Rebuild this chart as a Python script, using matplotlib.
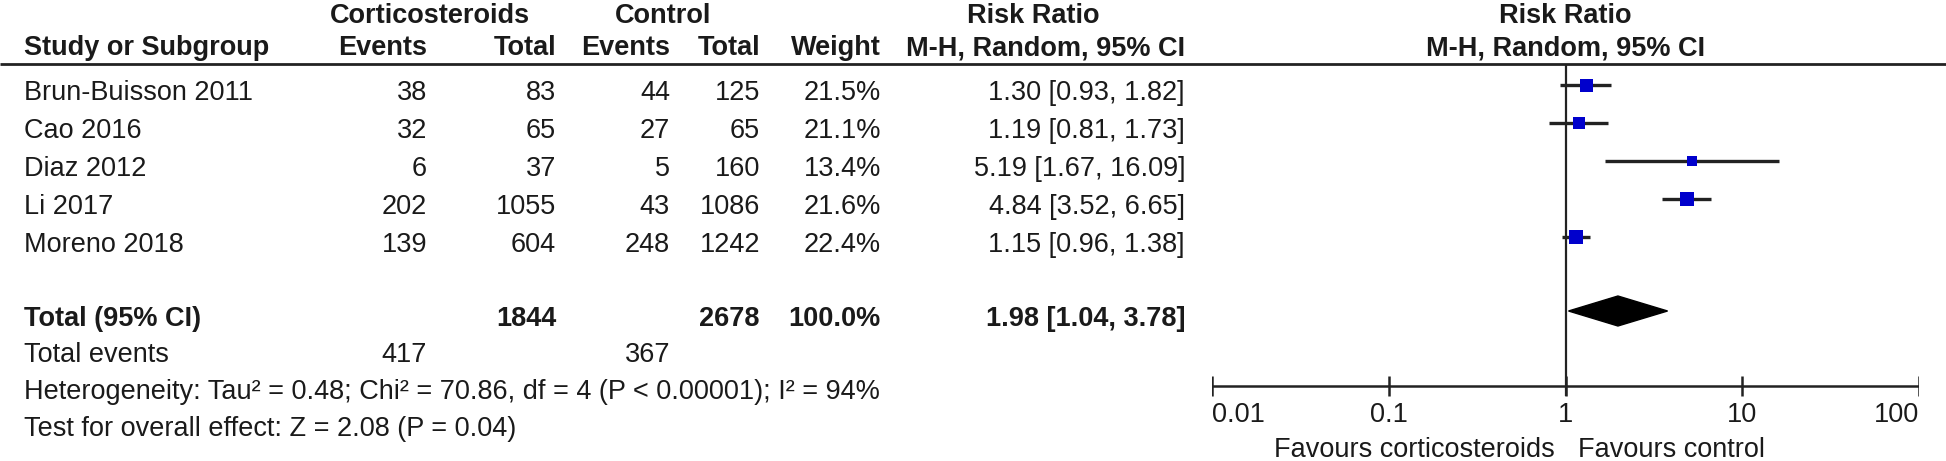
import numpy as np
import matplotlib
matplotlib.use("Agg")
import matplotlib.pyplot as plt

# study data
studies = ["Brun-Buisson 2011", "Cao 2016", "Diaz 2012", "Li 2017", "Moreno 2018"]
cort_events = [38, 32, 6, 202, 139]
cort_total = [83, 65, 37, 1055, 604]
ctrl_events = [44, 27, 5, 43, 248]
ctrl_total = [125, 65, 160, 1086, 1242]
weights = [21.5, 21.1, 13.4, 21.6, 22.4]
rr = [1.30, 1.19, 5.19, 4.84, 1.15]
rr_lo = [0.93, 0.81, 1.67, 3.52, 0.96]
rr_hi = [1.82, 1.73, 16.09, 6.65, 1.38]

# pooled
total_cort, total_ctrl = 1844, 2678
events_cort, events_ctrl = 417, 367
pooled_rr, pooled_lo, pooled_hi = 1.98, 1.04, 3.78
het_text = "Heterogeneity: Tau\u00b2 = 0.48; Chi\u00b2 = 70.86, df = 4 (P < 0.00001); I\u00b2 = 94%"
effect_text = "Test for overall effect: Z = 2.08 (P = 0.04)"
ticks = [0.01, 0.1, 1, 10, 100]
tick_labels = ["0.01", "0.1", "1", "10", "100"]

plt.rcParams['font.family'] = ['Liberation Sans', 'DejaVu Sans']
FS = 19.5
TXT = '#1a1a1a'

W, H = 1946, 461
fig = plt.figure(figsize=(W / 100, H / 100), dpi=100)
ax = fig.add_axes([0, 0, 1, 1])
ax.set_xlim(0, W)
ax.set_ylim(H, 0)
ax.axis('off')

# forest axes, log scale
x0, x1 = 1212, 1919
fx = fig.add_axes([x0 / W, 0, (x1 - x0) / W, 1])
fx.set_xscale('log')
fx.set_xlim(0.01, 100)
fx.set_ylim(H, 0)
fx.axis('off')

def put(a, x, y, s, ha='right', bold=False):
    # y is the visual centre of the text
    a.text(x, y + 9, s, ha=ha, va='baseline', fontsize=FS, color=TXT,
           fontweight='bold' if bold else 'normal', clip_on=False)

# columns (right edges)
c_ev, c_tot, k_ev, k_tot, c_w, c_ci = 427, 556, 670, 760, 881, 1185
x_name = 24

# headers
put(ax, 430, 14, "Corticosteroids", ha='center', bold=True)
put(ax, 663, 14, "Control", ha='center', bold=True)
put(ax, 1033, 14, "Risk Ratio", ha='center', bold=True)
put(fx, 1, 14, "Risk Ratio", ha='center', bold=True)
put(ax, x_name, 46, "Study or Subgroup", ha='left', bold=True)
put(ax, c_ev, 46, "Events", bold=True)
put(ax, c_tot, 46, "Total", bold=True)
put(ax, k_ev, 46, "Events", bold=True)
put(ax, k_tot, 46, "Total", bold=True)
put(ax, c_w, 46, "Weight", bold=True)
put(ax, c_ci, 46, "M-H, Random, 95% CI", bold=True)
put(fx, 1, 46, "M-H, Random, 95% CI", ha='center', bold=True)
ax.hlines(64, 0, W, color='#222222', lw=2)

row_y = [91, 129, 167, 205, 243]
for i, name in enumerate(studies):
    y = row_y[i]
    put(ax, x_name, y, name, ha='left')
    put(ax, c_ev, y, str(cort_events[i]))
    put(ax, c_tot, y, str(cort_total[i]))
    put(ax, k_ev, y, str(ctrl_events[i]))
    put(ax, k_tot, y, str(ctrl_total[i]))
    put(ax, c_w, y, f"{weights[i]:.1f}%")
    put(ax, c_ci, y, f"{rr[i]:.2f} [{rr_lo[i]:.2f}, {rr_hi[i]:.2f}]")

# totals
yt = 317
put(ax, x_name, yt, "Total (95% CI)", ha='left', bold=True)
put(ax, c_tot, yt, str(total_cort), bold=True)
put(ax, k_tot, yt, str(total_ctrl), bold=True)
put(ax, c_w, yt, f"{sum(weights):.1f}%", bold=True)
put(ax, c_ci, yt, f"{pooled_rr:.2f} [{pooled_lo:.2f}, {pooled_hi:.2f}]", bold=True)
put(ax, x_name, 353, "Total events", ha='left')
put(ax, c_ev, 353, str(events_cort))
put(ax, k_ev, 353, str(events_ctrl))
put(ax, x_name, 390, het_text, ha='left')
put(ax, x_name, 427, effect_text, ha='left')

# forest plot
off = -6
fx.vlines(1, 64, 396, color='#222222', lw=1.6)
for i in range(len(studies)):
    y = row_y[i] + off
    fx.hlines(y, rr_lo[i], rr_hi[i], color='#222222', lw=2.4)
    side = 13 * np.sqrt(weights[i] / 21.5) * 0.72
    fx.scatter([rr[i]], [y], marker='s', s=side ** 2, color='#0000cc',
               linewidths=0, zorder=3)

yd = yt + off
dx = [pooled_lo, pooled_rr, pooled_hi, pooled_rr]
dy = [yd, yd - 15, yd, yd + 15]
fx.fill(dx, dy, color='black', zorder=3)

# axis
ya = 386
fx.hlines(ya, 0.01, 100, color='#222222', lw=1.8)
fx.vlines(ticks, ya - 10, ya + 10, color='#222222', lw=1.8)
for t, lab in zip(ticks, tick_labels):
    ha = 'left' if t == ticks[0] else ('right' if t == ticks[-1] else 'center')
    put(fx, t, 413, lab, ha=ha)
put(fx, 0.87, 448, "Favours corticosteroids", ha='right')
put(fx, 1.17, 448, "Favours control", ha='left')

fig.savefig('out.png', dpi=100)
